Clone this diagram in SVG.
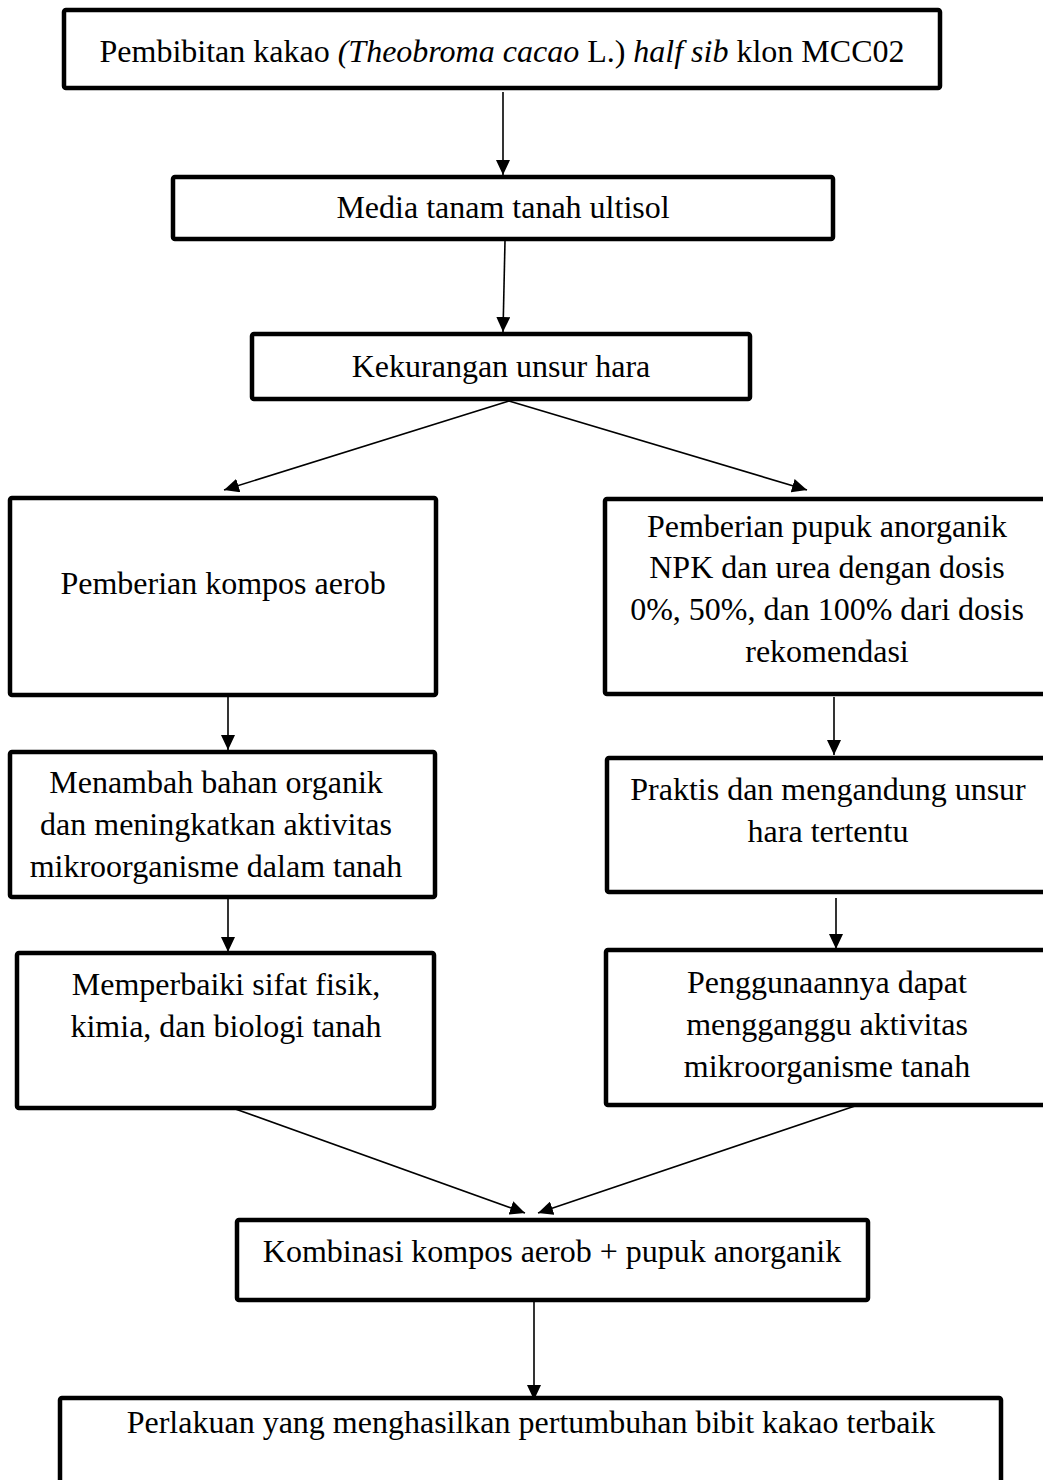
<svg xmlns="http://www.w3.org/2000/svg" width="1043" height="1480" viewBox="0 0 1043 1480">
<style>
.box{fill:#fff;stroke:#000;stroke-width:4.5;stroke-linejoin:round}
.t{font-family:"Liberation Serif","Times New Roman",serif;font-size:32px;fill:#000;text-anchor:middle}
.i{font-style:italic}
.c{stroke:#000;stroke-width:1.6;fill:none;marker-end:url(#ah)}
</style>
<defs>
<marker id="ah" markerUnits="userSpaceOnUse" markerWidth="16" markerHeight="14" refX="15" refY="7" orient="auto" viewBox="0 0 16 14">
<path d="M0,0 L15,7 L0,14 z" fill="#000"/>
</marker>
</defs>
<rect width="1043" height="1480" fill="#fff"/>
<g id="connectors">
<line class="c" x1="503" y1="92" x2="503" y2="175"/>
<line class="c" x1="505" y1="241" x2="503" y2="332"/>
<line class="c" x1="509" y1="401" x2="224" y2="490"/>
<line class="c" x1="509" y1="401" x2="807" y2="490"/>
<line class="c" x1="228" y1="697" x2="228" y2="750"/>
<line class="c" x1="834" y1="697" x2="834" y2="755"/>
<line class="c" x1="228" y1="899" x2="228" y2="952"/>
<line class="c" x1="836" y1="898" x2="836" y2="949"/>
<line class="c" x1="227" y1="1106" x2="525" y2="1213"/>
<line class="c" x1="855" y1="1106" x2="538" y2="1213"/>
<line class="c" x1="534" y1="1302" x2="534" y2="1400"/>
</g>
<g id="n1"><rect class="box" x="64" y="10" width="876" height="78" rx="2"/>
<text class="t" x="502" y="62">Pembibitan kakao <tspan class="i">(Theobroma cacao</tspan> L.) <tspan class="i">half sib</tspan> klon MCC02</text></g>
<g id="n2"><rect class="box" x="173" y="177" width="660" height="62" rx="2"/>
<text class="t" x="503" y="218">Media tanam tanah ultisol</text></g>
<g id="n3"><rect class="box" x="252" y="334" width="498" height="65" rx="2"/>
<text class="t" x="501" y="377">Kekurangan unsur hara</text></g>
<g id="n4"><rect class="box" x="10" y="498" width="426" height="197" rx="2"/>
<text class="t" x="223" y="594">Pemberian kompos aerob</text></g>
<g id="n5"><rect class="box" x="605" y="499" width="450" height="195" rx="2"/>
<text class="t" x="827" y="537">Pemberian pupuk anorganik</text>
<text class="t" x="827" y="578">NPK dan urea dengan dosis</text>
<text class="t" x="827" y="620">0%, 50%, dan 100% dari dosis</text>
<text class="t" x="827" y="662">rekomendasi</text></g>
<g id="n6"><rect class="box" x="10" y="752" width="425" height="145" rx="2"/>
<text class="t" x="216" y="793">Menambah bahan organik</text>
<text class="t" x="216" y="835">dan meningkatkan aktivitas</text>
<text class="t" x="216" y="877">mikroorganisme dalam tanah</text></g>
<g id="n7"><rect class="box" x="607" y="758" width="448" height="134" rx="2"/>
<text class="t" x="828" y="800">Praktis dan mengandung unsur</text>
<text class="t" x="828" y="842">hara tertentu</text></g>
<g id="n8"><rect class="box" x="17" y="953" width="417" height="155" rx="2"/>
<text class="t" x="226" y="995">Memperbaiki sifat fisik,</text>
<text class="t" x="226" y="1037">kimia, dan biologi tanah</text></g>
<g id="n9"><rect class="box" x="606" y="950" width="449" height="155" rx="2"/>
<text class="t" x="827" y="993">Penggunaannya dapat</text>
<text class="t" x="827" y="1035">mengganggu aktivitas</text>
<text class="t" x="827" y="1077">mikroorganisme tanah</text></g>
<g id="n10"><rect class="box" x="237" y="1220" width="631" height="80" rx="2"/>
<text class="t" x="552" y="1262">Kombinasi kompos aerob + pupuk anorganik</text></g>
<g id="n11"><rect class="box" x="60" y="1398" width="941" height="100" rx="2"/>
<text class="t" x="531" y="1433">Perlakuan yang menghasilkan pertumbuhan bibit kakao terbaik</text></g>
</svg>
